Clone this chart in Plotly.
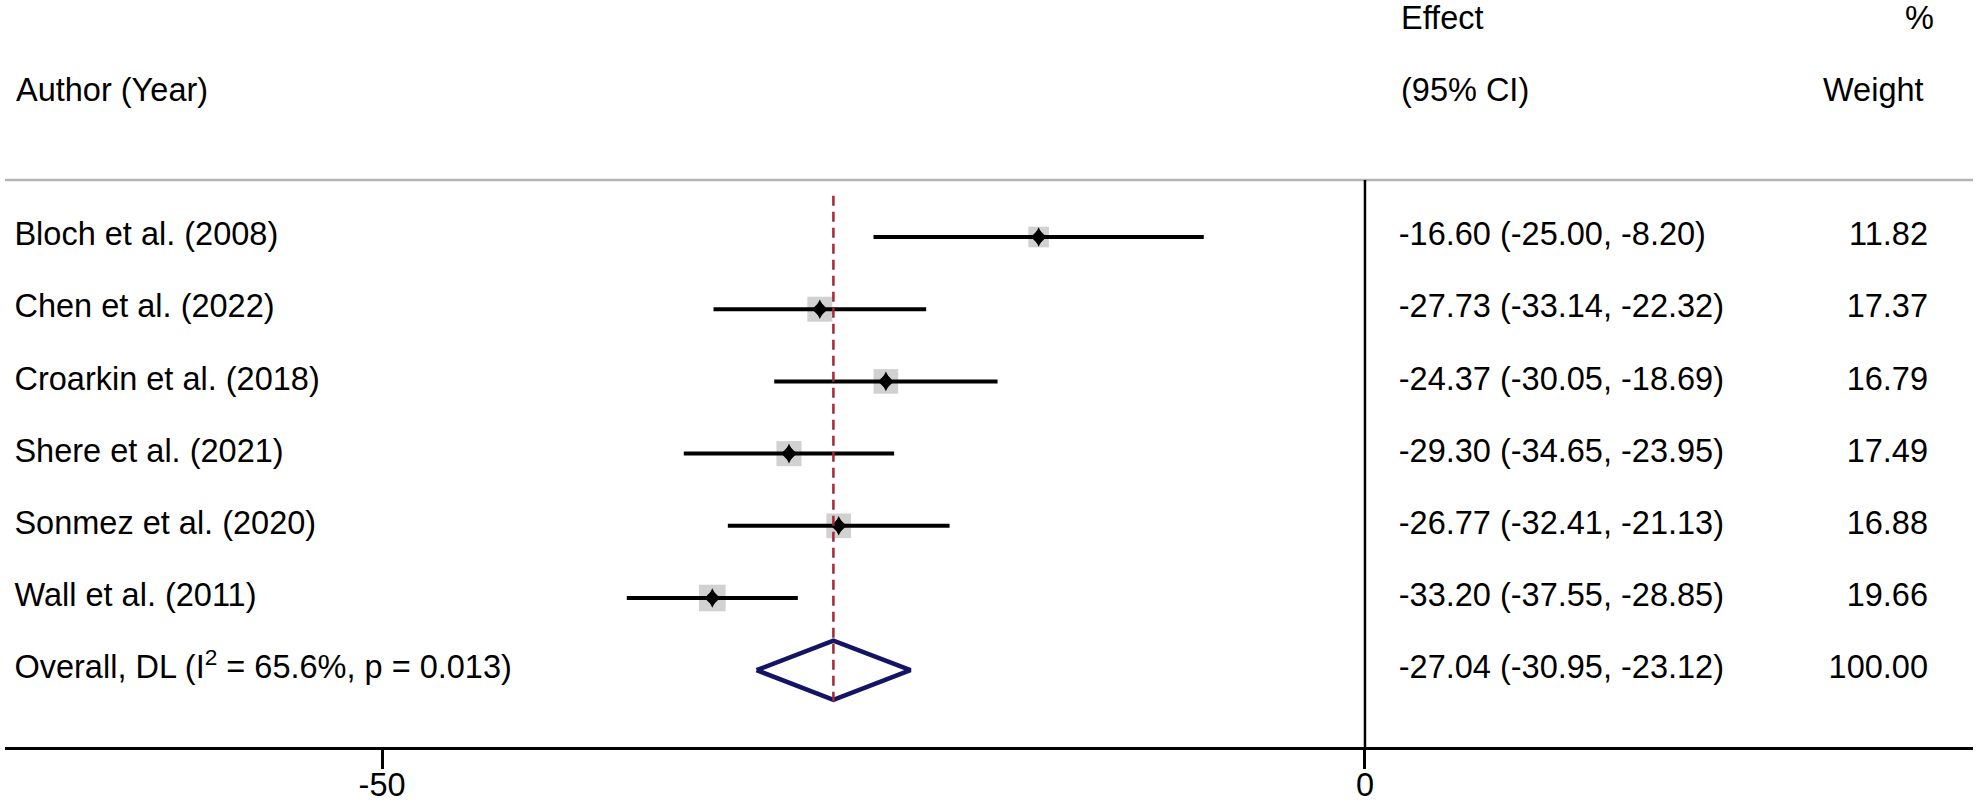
import plotly.graph_objects as go

# Study level results
studies = ["Bloch et al. (2008)", "Chen et al. (2022)", "Croarkin et al. (2018)",
           "Shere et al. (2021)", "Sonmez et al. (2020)", "Wall et al. (2011)"]
effect = [-16.60, -27.73, -24.37, -29.30, -26.77, -33.20]
ci_low = [-25.00, -33.14, -30.05, -34.65, -32.41, -37.55]
ci_high = [-8.20, -22.32, -18.69, -23.95, -21.13, -28.85]
weight = [11.82, 17.37, 16.79, 17.49, 16.88, 19.66]

# Pooled (DerSimonian-Laird) result
overall_label = "Overall, DL (I<sup>2</sup> = 65.6%, p = 0.013)"
overall_effect = -27.04
overall_low = -30.95
overall_high = -23.12
overall_weight = 100.00

tick_vals = [-50, 0]

FONT = "Liberation Sans, Arial, Helvetica, sans-serif"
FS = 32.5
n = len(studies)
rows = list(range(n))
overall_row = n

fig = go.Figure()

# weight boxes (area proportional to weight)
fig.add_trace(go.Scatter(
    x=effect, y=rows, mode="markers",
    marker=dict(symbol="square", color="#bdbdbd",
                size=[6.0 * w ** 0.5 for w in weight], line=dict(width=0)),
    hoverinfo="skip"))

# confidence intervals
cx, cy = [], []
for i in rows:
    cx += [ci_low[i], ci_high[i], None]
    cy += [i, i, None]
fig.add_trace(go.Scatter(x=cx, y=cy, mode="lines",
                         line=dict(color="black", width=4), hoverinfo="skip"))

# point estimates (a slightly tall diamond)
for sym, sz in [("diamond", 12), ("diamond-tall", 14)]:
    fig.add_trace(go.Scatter(
        x=effect, y=rows, mode="markers",
        marker=dict(symbol=sym, color="black", size=sz, line=dict(width=0)),
        hoverinfo="skip"))

# overall diamond
h = 0.41
fig.add_trace(go.Scatter(
    x=[overall_low, overall_effect, overall_high, overall_effect, overall_low],
    y=[overall_row, overall_row - h, overall_row, overall_row + h, overall_row],
    mode="lines", line=dict(color="#141464", width=4.5), hoverinfo="skip"))

# text columns
labels = studies + [overall_label]
eff_txt = [f"{e:.2f} ({l:.2f}, {u:.2f})" for e, l, u in zip(effect, ci_low, ci_high)]
eff_txt.append(f"{overall_effect:.2f} ({overall_low:.2f}, {overall_high:.2f})")
wt_txt = [f"{w:.2f}" for w in weight] + [f"{overall_weight:.2f}"]
all_rows = rows + [overall_row]

txt_font = dict(family=FONT, size=FS, color="black")
fig.add_trace(go.Scatter(x=[-68.7] * (n + 1), y=all_rows, mode="text", text=labels,
                         textposition="middle right", textfont=txt_font,
                         hoverinfo="skip"))
fig.add_trace(go.Scatter(x=[1.72] * (n + 1), y=all_rows, mode="text", text=eff_txt,
                         textposition="middle right", textfont=txt_font,
                         hoverinfo="skip"))
fig.add_trace(go.Scatter(x=[28.64] * (n + 1), y=all_rows, mode="text", text=wt_txt,
                         textposition="middle left", textfont=txt_font,
                         hoverinfo="skip"))

# header
fig.add_annotation(x=-68.7, y=-2.04, text="Author (Year)", xanchor="left", showarrow=False, font=txt_font)
fig.add_annotation(x=1.72, y=-3.03, text="Effect", xanchor="left", showarrow=False, font=txt_font)
fig.add_annotation(x=1.72, y=-2.04, text="(95% CI)", xanchor="left", showarrow=False, font=txt_font)
fig.add_annotation(x=29.05, y=-3.03, text="%", xanchor="right", showarrow=False, font=txt_font)
fig.add_annotation(x=28.55, y=-2.04, text="Weight", xanchor="right", showarrow=False, font=txt_font)

# header rule, null line, pooled-estimate line
fig.add_shape(type="line", xref="paper", x0=0, x1=1, y0=-0.79, y1=-0.79,
              line=dict(color="#b4b4b4", width=2.5))
fig.add_shape(type="line", x0=0, x1=0, y0=-0.79, y1=7.07,
              line=dict(color="black", width=2.5))
fig.add_shape(type="line", x0=overall_effect, x1=overall_effect, y0=-0.57, y1=6.47,
              line=dict(color="#9e2a33", width=2.5, dash="10px,6px"))

fig.update_layout(
    width=1978, height=804,
    margin=dict(l=5, r=5, t=0, b=57),
    paper_bgcolor="white", plot_bgcolor="white",
    showlegend=False,
    font=dict(family=FONT, size=FS, color="black"),
    xaxis=dict(range=[-69.18, 30.93], tickvals=tick_vals,
               ticktext=[str(v) for v in tick_vals], ticks="outside",
               ticklen=19, tickwidth=2.5, tickcolor="black",
               ticklabelstandoff=-12,
               showline=True, linecolor="black", linewidth=3,
               showgrid=False, zeroline=False, automargin=False,
               tickfont=dict(family=FONT, size=FS, color="black")),
    yaxis=dict(range=[7.064, -3.283], visible=False, showgrid=False,
               zeroline=False, automargin=False),
)

fig.write_html("out.html", config={"displayModeBar": False},
               post_script="document.body.style.margin='0';")
